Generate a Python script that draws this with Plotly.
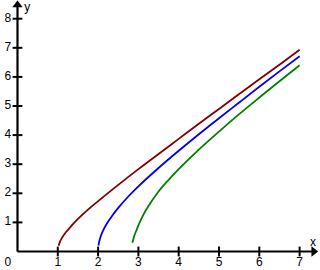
import plotly.graph_objects as go

# Data
red_x = [1.02, 1.05, 1.1, 1.2, 1.35, 1.5, 1.75, 2.0, 2.5, 3.0, 3.5, 4.0, 4.5, 5.0, 5.5, 6.0, 6.5, 7.0]
red_y = [0.2, 0.32, 0.46, 0.66, 0.9, 1.12, 1.44, 1.73, 2.29, 2.83, 3.35, 3.87, 4.39, 4.9, 5.41, 5.92, 6.42, 6.93]
blue_x = [2.01, 2.03, 2.06, 2.1, 2.2, 2.35, 2.5, 2.75, 3.0, 3.5, 4.0, 4.5, 5.0, 5.5, 6.0, 6.5, 7.0]
blue_y = [0.2, 0.35, 0.5, 0.65, 0.92, 1.23, 1.5, 1.89, 2.24, 2.87, 3.46, 4.03, 4.58, 5.12, 5.66, 6.19, 6.71]
green_x = [2.85, 2.87, 2.9, 2.95, 3.0, 3.1, 3.25, 3.5, 3.75, 4.0, 4.5, 5.0, 5.5, 6.0, 6.5, 7.0]
green_y = [0.3, 0.4, 0.55, 0.72, 0.9, 1.2, 1.56, 2.06, 2.46, 2.83, 3.5, 4.12, 4.72, 5.29, 5.85, 6.4]

x_ticks = [1, 2, 3, 4, 5, 6, 7]
y_ticks = [1, 2, 3, 4, 5, 6, 7, 8]
x_tick_labels = ["1", "2", "3", "4", "5", "6", "7"]
y_tick_labels = ["1", "2", "3", "4", "5", "6", "7", "8"]
x_max = 7.45
y_max = 8.62

font = dict(family="Liberation Sans, Arial, sans-serif", size=12, color="black")

fig = go.Figure()

# axes lines
fig.add_trace(go.Scatter(x=[0, x_max - 0.1], y=[0, 0], mode="lines",
                         line=dict(color="black", width=2.2), hoverinfo="skip"))
fig.add_trace(go.Scatter(x=[0, 0], y=[0, y_max - 0.15], mode="lines",
                         line=dict(color="black", width=2.2), hoverinfo="skip"))
# arrow heads
fig.add_trace(go.Scatter(x=[x_max - 0.1], y=[0], mode="markers",
                         marker=dict(symbol="triangle-right", size=9, color="black", line=dict(width=0))))
fig.add_trace(go.Scatter(x=[0], y=[y_max - 0.15], mode="markers",
                         marker=dict(symbol="triangle-up", size=9, color="black", line=dict(width=0))))
# tick marks
fig.add_trace(go.Scatter(x=x_ticks, y=[0] * len(x_ticks), mode="markers",
                         marker=dict(symbol="line-ns", size=7, line=dict(color="black", width=2))))
fig.add_trace(go.Scatter(x=[0] * len(y_ticks), y=y_ticks, mode="markers",
                         marker=dict(symbol="line-ew", size=7, line=dict(color="black", width=2))))
# tick labels
fig.add_trace(go.Scatter(x=x_ticks + [-0.24], y=[-0.39] * (len(x_ticks) + 1), mode="text",
                         text=x_tick_labels + ["0"], textfont=font, textposition="middle center"))
fig.add_trace(go.Scatter(x=[-0.24] * len(y_ticks), y=y_ticks, mode="text",
                         text=y_tick_labels, textfont=font, textposition="middle center"))
# axis names
fig.add_trace(go.Scatter(x=[7.33, 0.24], y=[0.3, 8.37], mode="text", text=["x", "y"],
                         textfont=font, textposition="middle center"))

# curves
fig.add_trace(go.Scatter(x=red_x, y=red_y, mode="lines", line=dict(color="#800000", width=1.8, shape="spline")))
fig.add_trace(go.Scatter(x=blue_x, y=blue_y, mode="lines", line=dict(color="#0000ee", width=1.8, shape="spline")))
fig.add_trace(go.Scatter(x=green_x, y=green_y, mode="lines", line=dict(color="#008000", width=1.8, shape="spline")))

fig.update_layout(
    width=320, height=270,
    margin=dict(l=0, r=0, t=0, b=0),
    paper_bgcolor="white", plot_bgcolor="white",
    showlegend=False,
    xaxis=dict(range=[-0.434, 7.506], visible=False, fixedrange=True),
    yaxis=dict(range=[-0.636, 8.643], visible=False, fixedrange=True),
)

fig.write_html("out.html")
